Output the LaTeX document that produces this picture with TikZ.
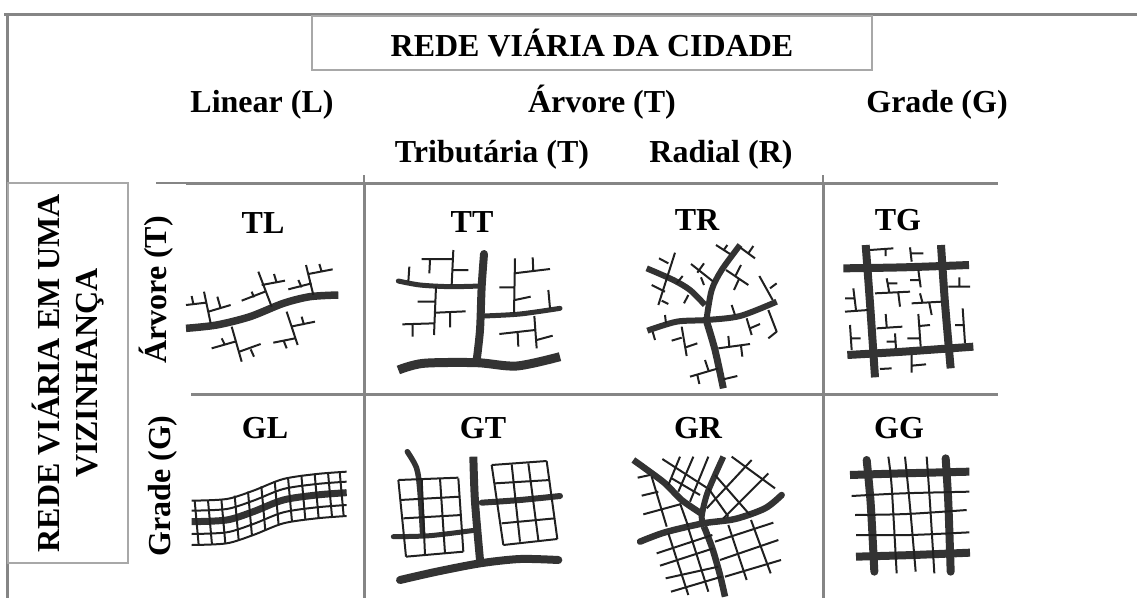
\documentclass[tikz,border=0pt]{standalone}
\usepackage{fontspec}
\setmainfont{Liberation Serif}
\usepackage{tikz}

\definecolor{rulegray}{HTML}{858585}
\definecolor{boxgray}{HTML}{A8A8A8}
\definecolor{roadgray}{HTML}{333333}
\definecolor{lanegray}{HTML}{202020}

\tikzset{
    bigfont/.style={font=\fontsize{32}{38}\selectfont\bfseries},
    label/.style={bigfont,inner sep=0pt,text height=24pt,text depth=8pt},
    rule/.style={draw=rulegray,line width=3pt},
    thinrule/.style={draw=rulegray,line width=1.5pt},
    titlebox/.style={bigfont,draw=boxgray,line width=1.2pt,inner sep=0pt,align=center},
    road/.style={draw=roadgray,line width=#1,line cap=round,line join=round},
    road/.default=6pt,
    lane/.style={draw=lanegray,line width=2pt,line join=round}
}

\begin{document}
\begin{tikzpicture}[x=1pt,y=-1pt]
        \useasboundingbox (0,0) rectangle (1137,598);

        % draw frame and table lines
        \draw[rule] (4,14) -- (1137,14);
        \draw[rule] (7,14) -- (7,598);
        \draw[thinrule] (156,183) -- (186,183);
        \draw[rule] (186,183) -- (998,183);
        \draw[rule] (191,394) -- (998,394);
        \draw[rule] (364,183) -- (364,598);
        \draw[rule] (823,183) -- (823,598);
        \draw[thinrule] (364,175) -- (364,183);
        \draw[thinrule] (823,175) -- (823,183);

        % draw title boxes
        \node[titlebox,minimum width=560pt,minimum height=54pt] (cidade) at (592,43) {REDE VIÁRIA DA CIDADE};
        \node[titlebox,rotate=90,minimum width=380pt,minimum height=120pt] (vizinhanca) at (68,373) {REDE VIÁRIA EM UMA\\VIZINHANÇA};

        % draw column and row headers
        \node[label] (linear) at (262,104) {Linear (L)};
        \node[label] (arvore) at (602,104) {Árvore (T)};
        \node[label] (grade) at (937,104) {Grade (G)};
        \node[label] (tributaria) at (492,154) {Tributária (T)};
        \node[label] (radial) at (721,154) {Radial (R)};
        \node[label,rotate=90] (rowT) at (158,290) {Árvore (T)};
        \node[label,rotate=90] (rowG) at (162,486) {Grade (G)};

        % draw cell labels
        \node[label] (TL) at (263,225) {TL};
        \node[label] (TT) at (472,224) {TT};
        \node[label] (TR) at (697,222) {TR};
        \node[label] (TG) at (898,222) {TG};
        \node[label] (GL) at (265,430) {GL};
        \node[label] (GT) at (483,430) {GT};
        \node[label] (GR) at (698,430) {GR};
        \node[label] (GG) at (899,430) {GG};

        % draw TL
        \begin{scope}[shift={(0,170)},scale=1/3]
            \draw[road=7.5pt,line cap=butt] plot[smooth] coordinates {(558,475) (650,465) (750,440) (850,400) (930,380) (1015,375)};
            \draw[lane] (632,460) -- (612,365) (558,405) -- (618,398) (575,378) -- (580,402) (625,425) -- (692,405) (652,380) -- (662,415);
            \draw[lane] (815,410) -- (775,305) (725,392) -- (795,365) (755,365) -- (762,382) (785,345) -- (855,332) (822,312) -- (830,338);
            \draw[lane] (940,375) -- (918,285) (865,358) -- (935,340) (895,330) -- (905,352) (925,312) -- (998,298) (958,282) -- (965,305);
            \draw[lane] (695,470) -- (725,575) (635,535) -- (705,515) (665,505) -- (675,525) (718,545) -- (782,522) (752,538) -- (762,560);
            \draw[lane] (860,425) -- (893,525) (820,518) -- (885,505) (850,510) -- (860,535) (872,470) -- (945,455) (905,440) -- (912,465);
        \end{scope}

        % draw GL
        \begin{scope}[shift={(0,170)},scale=1/3]
            \draw[road=7pt,line cap=butt] plot[smooth] coordinates {(575,1055) (680,1050) (760,1025) (850,990) (950,975) (1040,968)};
            \foreach \d in {-63,-33,37,70}
                \draw[lane,shift={(0,\d)}] plot[smooth] coordinates {(575,1055) (680,1050) (760,1025) (850,990) (950,975) (1040,968)};
            \foreach \x/\y in {590/1055,630/1054,670/1050,710/1040,750/1028,790/1012,830/996,870/985,910/978,950/975,990/970,1025/968}
                \draw[lane] (\x-6,\y-63) -- (\x+6,\y+70);
        \end{scope}

        % draw TT
        \begin{scope}[shift={(370,170)},scale=1/3]
            \draw[road=8pt] plot[smooth] coordinates {(342,252) (335,350) (330,480) (320,570)};
            \draw[road=5pt] plot[smooth] coordinates {(85,333) (150,345) (240,350) (330,348)};
            \draw[road=5pt] plot[smooth] coordinates {(340,438) (450,432) (570,415)};
            \draw[road=9pt,line cap=butt] plot[smooth] coordinates {(85,600) (160,580) (320,578) (440,588) (570,560)};
            \draw[lane] (250,240) -- (245,345) (155,267) -- (248,267) (180,270) -- (178,310) (248,300) -- (295,300) (118,290) -- (115,335);
            \draw[lane] (198,350) -- (192,495) (143,395) -- (195,395) (198,428) -- (287,424) (240,428) -- (240,472) (97,463) -- (192,460) (128,463) -- (128,500);
            \draw[lane] (435,265) -- (432,430) (432,310) -- (540,297) (488,262) -- (490,305) (388,352) -- (432,352) (435,390) -- (482,380) (535,360) -- (540,415);
            \draw[lane] (493,438) -- (500,535) (388,492) -- (495,480) (443,488) -- (445,530) (500,510) -- (548,497);
        \end{scope}

        % draw TR
        \begin{scope}[shift={(640,240)},scale=1/3]
            \draw[road=6pt,line cap=butt] plot[smooth] coordinates {(300,15) (245,90) (215,150) (200,235)};
            \draw[road=6pt,line cap=butt] plot[smooth] coordinates {(20,85) (100,120) (150,150) (195,195)};
            \draw[road=6pt,line cap=butt] plot[smooth] coordinates {(22,272) (110,245) (200,240) (300,228) (410,185)};
            \draw[road=7pt,line cap=butt] plot[smooth] coordinates {(200,245) (225,330) (250,445)};
            \draw[lane] (105,38) -- (55,195) (57,55) -- (85,70) (128,108) -- (110,130) (35,135) -- (75,155) (65,182) -- (85,192) (145,165) -- (132,190);
            \draw[lane] (153,72) -- (220,125) (192,70) -- (172,98) (183,112) -- (192,135);
            \draw[lane] (228,15) -- (270,42) (262,15) -- (250,32) (300,22) -- (345,55) (340,18) -- (325,40);
            \draw[lane] (258,90) -- (325,135) (303,75) -- (285,110) (298,115) -- (282,150);
            \draw[lane] (358,108) -- (398,180) (410,130) -- (390,145);
            \draw[lane] (75,225) -- (78,250) (38,275) -- (45,300) (275,195) -- (285,225);
            \draw[lane] (320,235) -- (335,285) (330,265) -- (360,252) (385,210) -- (410,275) -- (385,295);
            \draw[lane] (125,260) -- (140,348) (95,302) -- (125,293) (137,322) -- (172,310);
            \draw[lane] (235,325) -- (330,312) (265,288) -- (268,320) (303,318) -- (307,350);
            \draw[lane] (150,410) -- (235,385) (195,360) -- (205,390) (172,405) -- (178,432) (250,418) -- (292,408);
        \end{scope}

        % draw GT
        \begin{scope}[shift={(370,385)},scale=1/3]
            \draw[road=5.5pt] plot[smooth] coordinates {(112,200) (140,250) (150,320) (158,450)};
            \draw[road=8pt,line cap=butt] plot[smooth] coordinates {(310,215) (315,350) (330,525)};
            \draw[road=5pt] plot[smooth] coordinates {(70,455) (180,452) (320,435)};
            \draw[road=6pt] plot[smooth] coordinates {(335,353) (450,345) (570,333)};
            \draw[road=8pt] plot[smooth] coordinates {(90,585) (200,560) (330,535) (450,522) (565,525)};
            \foreach \a/\b/\c/\d in {85/285/108/515,155/280/165/510,210/280/225/505,265/280/280/500,85/285/265/278,90/345/270/335,100/400/275/390,108/515/280/500}
                \draw[lane] (\a,\b) -- (\c,\d);
            \foreach \a/\b/\c/\d in {365/240/400/480,425/238/450/470,475/235/505/465,530/228/562/462,365/240/530/228,375/295/540/285,395/415/555/400,400/480/562/462}
                \draw[lane] (\a,\b) -- (\c,\d);
        \end{scope}

        % draw GR
        \begin{scope}[shift={(625,445)},scale=1/3]
            \draw[road=6.5pt,line cap=butt] plot[smooth] coordinates {(25,45) (60,70) (120,115) (170,165) (228,205)};
            \draw[road=6pt,line cap=butt] plot[smooth] coordinates {(295,35) (270,90) (245,150) (230,215) (237,245)};
            \draw[road=6.5pt] plot[smooth] coordinates {(45,290) (120,262) (235,235) (330,222) (420,190) (470,150)};
            \draw[road=6.5pt,line cap=butt] plot[smooth] coordinates {(237,245) (262,310) (285,390) (300,455)};
            \foreach \a/\b/\c/\d in {38/98/75/90,50/152/100/140,55/208/165/178,80/95/125/245,165/175/190/245}
                \draw[lane] (\a,\b) -- (\c,\d);
            \foreach \a/\b/\c/\d in {112/42/245/128,140/100/225/150,165/35/130/120,205/35/160/140,250/35/195/170}
                \draw[lane] (\a,\b) -- (\c,\d);
            \foreach \a/\b/\c/\d in {320/35/450/130,270/90/375/210,250/130/310/215,380/45/245/190,430/85/295/220}
                \draw[lane] (\a,\b) -- (\c,\d);
            \foreach \a/\b/\c/\d in {95/325/262/270,105/362/265/310,122/400/280/365,138/440/290/395,130/265/190/450,190/250/250/440}
                \draw[lane] (\a,\b) -- (\c,\d);
            \foreach \a/\b/\c/\d in {270/290/445/233,285/345/460/285,300/395/468/345,310/240/365/405,378/225/437/385}
                \draw[lane] (\a,\b) -- (\c,\d);
        \end{scope}

        % draw TG
        \begin{scope}[shift={(770,170)},scale=1/3]
            \draw[road=8pt,line cap=butt] plot[smooth] coordinates {(220,295) (400,292) (597,285)};
            \draw[road=8pt,line cap=butt] plot[smooth] coordinates {(232,555) (400,545) (610,530)};
            \draw[road=8pt,line cap=butt] plot[smooth] coordinates {(287,225) (300,400) (315,622)};
            \draw[road=8pt,line cap=butt] plot[smooth] coordinates {(513,225) (525,400) (542,595)};
            \draw[lane] (300,240) -- (370,235) (347,235) -- (347,258) (420,232) -- (425,275) (423,250) -- (460,250);
            \draw[lane] (535,350) -- (600,350) (568,322) -- (568,350) (225,385) -- (255,385) (250,355) -- (258,420) (225,425) -- (295,420);
            \draw[lane] (578,415) -- (585,520) (555,465) -- (583,465) (240,465) -- (245,540) (245,505) -- (272,505);
            \draw[lane] (315,370) -- (420,365) (350,325) -- (358,368) (355,340) -- (382,340) (385,370) -- (390,410);
            \draw[lane] (420,330) -- (452,330) (445,300) -- (452,352) (425,400) -- (515,395) (450,370) -- (458,400) (478,400) -- (485,435);
            \draw[lane] (320,475) -- (397,470) (347,432) -- (350,470) (350,515) -- (378,515) (375,490) -- (378,535);
            \draw[lane] (445,432) -- (452,530) (448,468) -- (480,465) (412,505) -- (450,505);
            \draw[lane] (330,597) -- (365,595) (425,555) -- (425,608) (425,587) -- (468,583);
        \end{scope}

        % draw GG
        \begin{scope}[shift={(770,170)},scale=1/3]
            \draw[road=8pt,line cap=butt] plot[smooth] coordinates {(240,915) (400,910) (598,905)};
            \draw[road=8pt,line cap=butt] plot[smooth] coordinates {(258,1160) (430,1155) (600,1148)};
            \draw[road=8pt] plot[smooth] coordinates {(290,870) (302,1000) (313,1205)};
            \draw[road=8pt] plot[smooth] coordinates {(527,865) (535,1000) (542,1205)};
            \draw[lane] plot[smooth] coordinates {(355,860) (365,950) (380,1210)};
            \draw[lane] plot[smooth] coordinates {(405,860) (420,1010) (437,1205)};
            \draw[lane] plot[smooth] coordinates {(470,860) (480,1000) (493,1210)};
            \draw[lane] plot[smooth] coordinates {(245,978) (400,970) (598,965)};
            \draw[lane] plot[smooth] coordinates {(255,1035) (410,1032) (590,1020)};
            \draw[lane] plot[smooth] coordinates {(258,1095) (420,1095) (598,1087)};
        \end{scope}
\end{tikzpicture}
\end{document}
